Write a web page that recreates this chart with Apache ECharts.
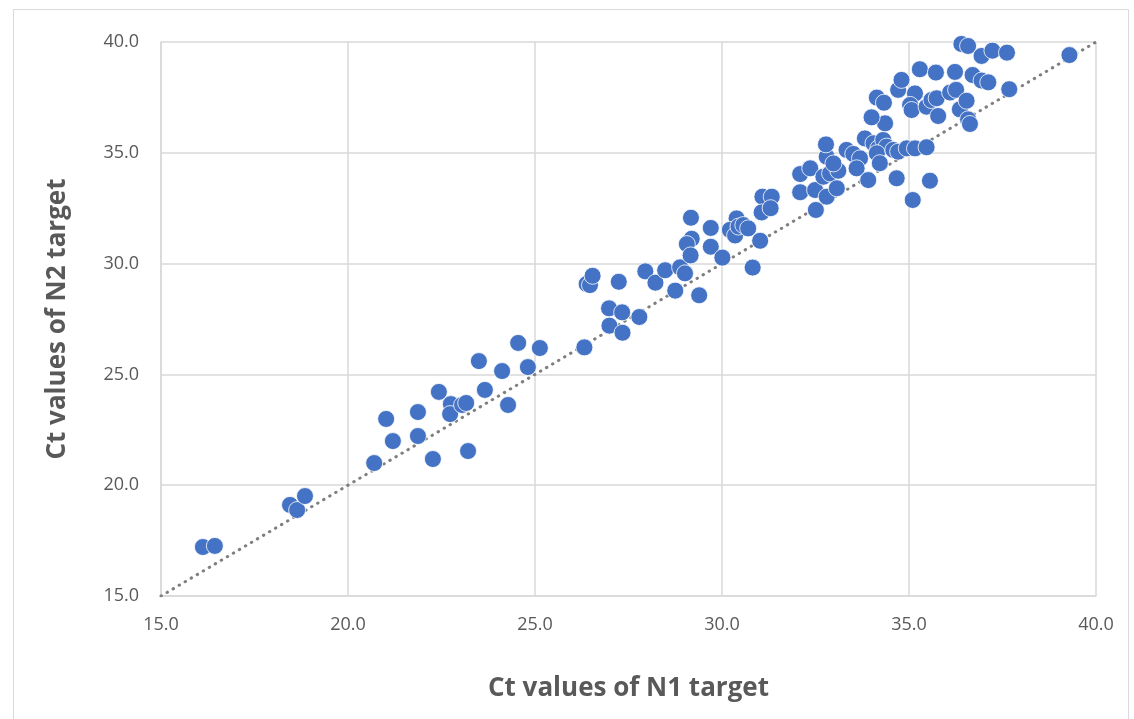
<!DOCTYPE html>
<html><head><meta charset="utf-8">
<script src="https://cdn.jsdelivr.net/npm/echarts@6/dist/echarts.min.js"></script>
<style>html,body{margin:0;padding:0;background:#fff}#c{width:1134px;height:719px}</style>
</head><body><div id="c"></div>
<script>
const n1Values = [16.12,16.44,18.45,18.64,18.85,20.70,21.02,21.20,21.87,21.87,22.27,22.43,22.75,22.73,23.05,23.16,23.21,23.50,23.66,24.12,24.28,24.55,24.81,25.13,
26.32,26.38,26.47,26.54,26.98,26.99,27.24,27.33,27.34,27.79,27.95,28.22,28.48,28.75,28.88,29.01,29.17,29.19,29.06,29.16,29.39,29.70,29.70,30.01,30.82,30.39,30.21,30.35,30.44,30.57,30.70,31.02,31.08,31.33,31.06,31.30,
32.51,32.09,32.09,32.36,32.49,32.80,32.71,32.89,33.07,33.11,32.80,32.78,32.98,33.33,33.51,33.69,33.60,33.82,33.91,34.05,34.18,34.31,34.40,34.14,34.22,34.36,34.00,34.14,34.33,34.58,34.71,34.80,34.67,34.71,34.94,35.16,35.47,35.10,35.16,35.03,35.07,35.29,35.56,35.47,35.60,35.74,35.78,35.72,36.10,36.26,36.23,36.40,36.58,36.36,36.54,36.58,36.63,36.70,36.94,37.23,36.94,37.12,37.62,37.68,39.29];
const n2Values = [17.21,17.26,19.11,18.88,19.51,21.00,22.99,21.99,23.30,22.22,21.18,24.21,23.66,23.21,23.62,23.71,21.54,25.60,24.30,25.15,23.62,26.42,25.33,26.19,
26.22,29.08,29.03,29.45,27.98,27.20,29.18,27.80,26.88,27.59,29.65,29.14,29.70,28.78,29.83,29.56,32.07,31.12,30.88,30.37,28.57,31.61,30.76,30.27,29.82,32.04,31.52,31.27,31.67,31.74,31.59,31.03,33.02,33.02,32.31,32.50,
32.42,33.22,34.04,34.30,33.32,33.02,33.92,34.07,33.40,34.19,34.82,35.38,34.52,35.13,34.95,34.75,34.30,35.65,33.77,35.43,35.20,35.58,35.28,34.98,34.53,36.33,36.60,37.49,37.26,35.13,37.84,38.29,33.85,35.05,35.20,35.20,35.25,32.87,37.68,37.16,36.93,38.77,33.74,37.08,37.38,37.46,36.66,38.62,37.72,37.84,38.65,39.91,39.82,36.96,37.35,36.51,36.30,38.51,39.37,39.61,38.26,38.18,39.52,37.87,39.41];
const identityLine = [[15,15],[40,40]];
const xTitle = 'Ct values of N1 target';
const yTitle = 'Ct values of N2 target';

const pts = n1Values.map((x,i)=>[x,n2Values[i]]);
const chart = echarts.init(document.getElementById('c'));
const lab = {color:'#595959', fontSize:18, fontFamily:'Open Sans', formatter:v=>v.toFixed(1)};
chart.setOption({
  animation:false,
  graphic:[{type:'rect',shape:{x:13.5,y:9.5,width:1115,height:720},style:{fill:'none',stroke:'#d9d9d9',lineWidth:1},z:-1}],
  grid:{left:161,right:38,top:42,bottom:123},
  xAxis:{type:'value',min:15,max:40,interval:5,
    name:xTitle,nameLocation:'middle',nameGap:80,
    nameTextStyle:{fontSize:26,fontWeight:'bold',color:'#595959',fontFamily:'Open Sans'},
    axisLine:{show:true,lineStyle:{color:'#d9d9d9',width:1.5}},axisTick:{show:false},
    splitLine:{show:true,lineStyle:{color:'#d9d9d9',width:1.5}},
    axisLabel:Object.assign({margin:20},lab)},
  yAxis:{type:'value',min:15,max:40,interval:5,
    name:yTitle,nameLocation:'middle',nameGap:90,
    nameTextStyle:{fontSize:26,fontWeight:'bold',color:'#595959',fontFamily:'Open Sans'},
    axisLine:{show:true,lineStyle:{color:'#d9d9d9',width:1.5}},axisTick:{show:false},
    splitLine:{show:true,lineStyle:{color:'#d9d9d9',width:1.5}},
    axisLabel:Object.assign({margin:22},lab)},
  series:[
    {type:'line',data:identityLine,symbol:'none',lineStyle:{color:'#7f7f7f',width:3,type:[0.5,6.5],cap:'round'},z:1},
    {type:'scatter',data:pts,symbolSize:17,itemStyle:{color:'#4472c4',opacity:1,borderColor:'#ffffff',borderWidth:0.8},z:2}
  ]
});
</script></body></html>
